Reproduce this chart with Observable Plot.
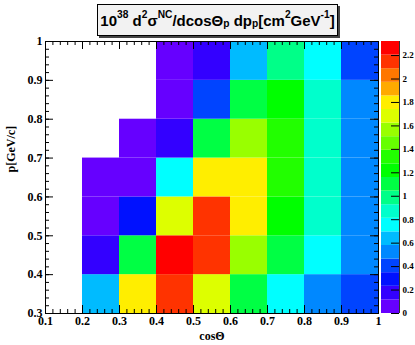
<!DOCTYPE html>
<html><head><meta charset="utf-8">
<script src="https://cdn.jsdelivr.net/npm/d3@7"></script>
<script src="https://cdn.jsdelivr.net/npm/@observablehq/plot@0.6"></script>
<style>
body{margin:0;background:#fff;}
#wrap{position:relative;width:415px;height:345px;overflow:hidden;background:#fff;}
#main,#cbar{position:absolute;top:0;}
#main{left:0;}
#cbar{left:381px;}
#title{position:absolute;left:97px;top:4px;width:241px;height:32px;box-sizing:border-box;border:1px solid #000;background:#f2f2f2;box-shadow:2px 2px 0 #444;font:bold 15px "Liberation Sans",Arial,sans-serif;display:flex;align-items:center;justify-content:center;white-space:nowrap;color:#000;}
.sp{font-size:0.68em;position:relative;top:-0.5em;}
.sb{font-size:0.68em;position:relative;top:0.35em;}
</style></head><body>
<div id="wrap"><div id="main"></div><div id="cbar"></div>
<div id="title">10<span class="sp">38</span>&nbsp;d<span class="sp">2</span>σ<span class="sp">NC</span>/dcosΘ<span class="sb">p</span>&nbsp;dp<span class="sb">p</span>[cm<span class="sp">2</span>GeV<span class="sp">-1</span>]</div></div>
<script>
// bin edges
const cosThetaEdges = [0.1, 0.2, 0.3, 0.4, 0.5, 0.6, 0.7, 0.8, 0.9, 1.0];
const momentumEdges = [0.3, 0.4, 0.5, 0.6, 0.7, 0.8, 0.9, 1.0];
// cross section values, one row per momentum bin (bottom to top), one entry per cosΘ bin
const row_p030 = [null, 0.64, 1.80, 2.15, 1.68, 1.10, 0.75, 0.52, 0.41];
const row_p040 = [null, 0.17, 1.10, 2.26, 2.15, 1.57, 1.10, 0.75, 0.52];
const row_p050 = [null, 0.06, 0.29, 1.68, 2.15, 1.80, 1.22, 0.87, 0.52];
const row_p060 = [null, 0.06, 0.06, 0.75, 1.80, 1.80, 1.33, 0.87, 0.52];
const row_p070 = [null, null, 0.06, 0.17, 1.10, 1.57, 1.33, 0.87, 0.52];
const row_p080 = [null, null, null, 0.06, 0.41, 1.10, 1.22, 0.87, 0.52];
const row_p090 = [null, null, null, 0.06, 0.17, 0.64, 0.99, 0.75, 0.41];
const rows = [row_p030, row_p040, row_p050, row_p060, row_p070, row_p080, row_p090];
// colour palette (20 contour levels) and z range
const palette = ["#6600ff","#3300ff","#0011ff","#0044ff","#0088ff","#00bbff","#00ffff","#00ffcc","#00ff88","#00ff44",
                 "#00ff00","#22ff00","#66ff00","#99ff00","#ddff00","#ffee00","#ffaa00","#ff7700","#ff3300","#ff0000"];
const zMax = 2.32;
const xTickLabels = [0.1, 0.2, 0.3, 0.4, 0.5, 0.6, 0.7, 0.8, 0.9, 1.0];
const yTickLabels = [0.3, 0.4, 0.5, 0.6, 0.7, 0.8, 0.9, 1.0];
const zTickLabels = [0, 0.2, 0.4, 0.6, 0.8, 1.0, 1.2, 1.4, 1.6, 1.8, 2.0, 2.2];

const cells = [];
rows.forEach((r, j) => r.forEach((v, i) => {
  if (v != null) cells.push({x1: cosThetaEdges[i], x2: cosThetaEdges[i + 1], y1: momentumEdges[j], y2: momentumEdges[j + 1], v});
}));
const thresholds = d3.range(1, palette.length).map(i => i * zMax / palette.length);
const bands = palette.map((c, i) => ({lo: i * zMax / palette.length, hi: (i + 1) * zMax / palette.length}));
const colorScale = {type: "threshold", domain: thresholds, range: palette};
const fmt = d => String(+(+d).toFixed(1));
const xMinor = d3.ticks(0.1, 1.0, 45);
const yMinor = d3.ticks(0.3, 1.0, 35);

const W = 415, H = 345, mL = 45, mR = 37, mT = 41, mB = 32;
const innerW = W - mL - mR, innerH = H - mT - mB;
const font = {fontFamily: "'Liberation Serif','Times New Roman',serif", fontWeight: "bold", fontSize: "12px", color: "#000"};

const main = Plot.plot({
  width: W, height: H, marginLeft: mL, marginRight: mR, marginTop: mT, marginBottom: mB,
  x: {domain: [0.1, 1.0]},
  y: {domain: [0.3, 1.0]},
  color: colorScale,
  style: {...font, background: "transparent"},
  marks: [
    Plot.rect(cells, {x1: "x1", x2: "x2", y1: "y1", y2: "y2", fill: "v"}),
    Plot.ruleX(xTickLabels, {insetTop: innerH - 8, stroke: "#000"}),
    Plot.ruleX(xTickLabels, {insetBottom: innerH - 8, stroke: "#000"}),
    Plot.ruleX(xMinor, {insetTop: innerH - 4, stroke: "#000"}),
    Plot.ruleX(xMinor, {insetBottom: innerH - 4, stroke: "#000"}),
    Plot.ruleY(yTickLabels, {insetRight: innerW - 8, stroke: "#000"}),
    Plot.ruleY(yTickLabels, {insetLeft: innerW - 8, stroke: "#000"}),
    Plot.ruleY(yMinor, {insetRight: innerW - 4, stroke: "#000"}),
    Plot.ruleY(yMinor, {insetLeft: innerW - 4, stroke: "#000"}),
    Plot.frame({stroke: "#000"}),
    Plot.axisX({ticks: xTickLabels, tickSize: 0, tickPadding: 3, tickFormat: fmt, label: null, fill: "#000"}),
    Plot.axisY({ticks: yTickLabels, tickSize: 0, tickPadding: 3, tickFormat: fmt, label: null, fill: "#000"}),
    Plot.text(["cosΘ"], {text: d => d, frameAnchor: "bottom", dy: 26, fill: "#000"}),
    Plot.text(["p[GeV/c]"], {text: d => d, frameAnchor: "left", rotate: -90, dx: -34, dy: -5, fill: "#000"})
  ]
});
document.getElementById("main").append(main);

const cbW = 34, cbR = 16;
const cbar = Plot.plot({
  width: cbW, height: H, marginLeft: 0, marginRight: cbR, marginTop: mT, marginBottom: mB,
  x: {domain: [0, 1], axis: null},
  y: {domain: [0, zMax]},
  color: colorScale,
  style: {...font, fontSize: "9px", background: "transparent", overflow: "visible"},
  marks: [
    Plot.rect(bands, {y1: "lo", y2: "hi", fill: d => (d.lo + d.hi) / 2}),
    Plot.ruleY(zTickLabels, {insetLeft: cbW - cbR - 8, stroke: "#000"}),
    Plot.ruleX([1], {stroke: "#333"}),
    Plot.axisY({anchor: "right", ticks: zTickLabels, tickSize: 0, tickPadding: 3, tickFormat: fmt, label: null, fill: "#000", fontSize: 9})
  ]
});
document.getElementById("cbar").append(cbar);
</script>
</body></html>
